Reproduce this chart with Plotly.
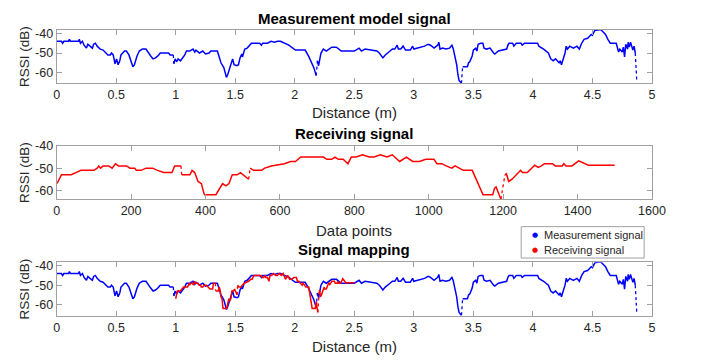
import plotly.graph_objects as go

# ---------------- data ----------------
meas_dist = [0.00, 0.04, 0.05, 0.06, 0.10, 0.107, 0.115, 0.185, 0.19, 0.20, 0.216, 0.23, 0.25, 0.262, 0.28,
             0.30, 0.31, 0.325, 0.34, 0.366, 0.39, 0.41, 0.43, 0.45, 0.46, 0.475, 0.49, 0.503, 0.516, 0.53,
             0.54, 0.57, 0.585, 0.607, 0.62, 0.64, 0.653, 0.675, 0.694, 0.72, 0.75, 0.77, 0.79, 0.81, 0.83,
             0.85, 0.87, 0.90, 0.94, 0.953, 0.98,
             0.984, 0.995, 1.008, 1.02, 1.04, 1.057, 1.076, 1.09, 1.117, 1.145, 1.16, 1.17, 1.20, 1.227,
             1.25, 1.28, 1.295, 1.35, 1.36, 1.38, 1.404, 1.426, 1.437, 1.45, 1.464, 1.478, 1.49, 1.514,
             1.527, 1.54, 1.555, 1.56, 1.58, 1.60, 1.636, 1.705, 1.72, 1.73, 1.77, 1.80, 1.83, 1.855, 1.88,
             1.91, 1.94, 1.95, 2.005, 2.087, 2.115, 2.13, 2.14, 2.16, 2.18,
             2.19, 2.20, 2.22, 2.24, 2.265, 2.29, 2.31, 2.35, 2.39, 2.50, 2.54, 2.56, 2.59, 2.69, 2.71,
             2.74, 2.76, 2.80, 2.82, 2.84, 2.86, 2.87, 2.89, 2.91, 2.93, 2.97, 2.99, 3.00, 3.03, 3.05,
             3.09, 3.12, 3.14, 3.17, 3.20, 3.21, 3.22, 3.24, 3.27, 3.30, 3.32, 3.33, 3.34, 3.36, 3.37,
             3.38, 3.40,
             3.41, 3.45, 3.46, 3.47, 3.49, 3.50, 3.52, 3.53, 3.54, 3.56, 3.58, 3.59, 3.61, 3.64, 3.67,
             3.68, 3.71, 3.75, 3.78, 3.79, 3.80, 3.83, 3.84, 3.86, 3.90, 3.91, 3.93, 3.97, 4.04, 4.05,
             4.09, 4.13, 4.15, 4.17, 4.19, 4.22, 4.23, 4.24, 4.27, 4.28, 4.29, 4.31, 4.34, 4.37, 4.39,
             4.41, 4.43, 4.46, 4.49, 4.50, 4.52, 4.57, 4.61, 4.63, 4.65, 4.70, 4.72, 4.73, 4.75, 4.76,
             4.77, 4.78, 4.795, 4.80, 4.81, 4.82, 4.84, 4.85, 4.86,
             4.868, 4.872]
meas_rssi = [-44, -44, -45, -44, -44, -43, -44, -44, -43, -45, -44, -46, -47.5, -45.5, -46.5,
             -47.5, -45.5, -45, -46.5, -48, -48.5, -50, -51, -51, -50, -51, -55.5, -53, -56, -54,
             -51, -49, -49, -51, -53, -57, -56, -51.5, -49, -48, -48, -50, -51.5, -53, -52.5,
             -51.5, -50, -50, -50, -51, -51,
             -55.5, -53, -54.5, -53, -54, -52.5, -51, -49, -49, -48, -49.5, -48.5, -50, -49,
             -50.5, -50, -49, -49, -51, -55, -57.5, -62.5, -61, -58.5, -55.5, -53, -56, -56.5,
             -56, -52.5, -50.5, -52, -48, -47.5, -45, -45, -46, -45, -45, -44, -44.5, -44, -44,
             -45, -46, -46, -48.5, -48.5, -51.5, -53.5, -55, -57.5, -61.5,
             -54, -56.5, -50, -48, -49, -48, -47, -47, -49, -49, -47.5, -49, -48, -49, -50,
             -52.5, -51, -49, -48, -48, -46, -48, -48, -46.5, -48.5, -48.5, -46.5, -48, -47.5, -47.5,
             -46.5, -45.5, -46, -47.5, -46, -44.5, -48, -47.5, -48, -47.5, -46, -47.5, -50, -56, -61,
             -64, -65.5,
             -57, -57, -55, -54.5, -51.5, -48.5, -47.5, -49, -45.5, -45, -45, -47.5, -48, -47.5, -50,
             -50.5, -49, -48.5, -48, -46, -45, -45, -46.5, -45, -45, -46, -45, -45, -45, -46.5,
             -48, -50, -53, -54, -53, -55, -54, -56, -50, -46.5, -48, -46.5, -47.5, -46.5, -48,
             -45, -43, -42.5, -40.5, -41, -38.5, -38, -40.5, -43, -45, -45, -49.5, -48, -49.5, -47,
             -52, -45.5, -48, -44.5, -47, -44.5, -48.5, -46.5, -50,
             -59, -64]
# points after which the signal jumps (drawn as sparse dots)
meas_jump_after = [0.98, 2.18, 3.40, 4.86, 4.868]

recv_index = [0, 4, 13, 39, 52, 65, 100, 109, 113, 118, 125, 140, 149, 158, 166, 188, 197, 210, 214,
              227, 240, 258, 271, 288, 310, 317, 334,
              336, 358, 364, 371, 380, 389, 396, 398, 428, 446, 455, 463, 472, 485, 494, 516,
              520, 529, 551, 559, 577, 603, 612, 629, 642, 656, 717, 726, 739, 748, 757, 770, 783,
              792, 805, 822, 840, 853, 870, 888, 902, 922, 940, 957, 975, 992, 1014, 1022, 1035,
              1047, 1062, 1071, 1083, 1093, 1117, 1146, 1172, 1177, 1181, 1188, 1194,
              1205, 1209, 1215, 1224, 1247, 1252, 1265, 1285, 1294, 1303, 1311, 1333, 1340, 1359,
              1363, 1369, 1385, 1403, 1429, 1500]
recv_rssi = [-57, -56, -53, -53, -52, -51, -51, -50, -49, -50, -49, -49, -50, -48, -49, -49, -50, -50, -51,
             -51, -50, -50, -51, -52, -52, -49, -49,
             -53, -53, -51, -52, -56, -57, -61.5, -62, -62, -57, -58, -57, -53, -53, -52, -55,
             -50, -51, -51, -50, -49, -48.5, -48, -47, -47, -45, -45, -46, -46, -45, -46, -46, -48,
             -45, -45, -44, -45, -45, -44, -45, -44, -47, -45, -47, -47, -46, -46, -48, -48,
             -49, -50, -49, -50, -51, -51, -62, -62, -59, -58.5, -62, -64,
             -53, -52.5, -56, -55, -51, -52, -52, -48.7, -49.7, -49, -48, -48, -49, -49,
             -48, -49, -49, -46.7, -48.7, -48.7]
recv_jump_after = [334, 516, 1194]

# mapping of data points onto distance (m)
map_start_m = 1.0
map_points_per_m = 1000.0
recv_dist = [map_start_m + i / map_points_per_m for i in recv_index]

dist_ticks = [0, 0.5, 1, 1.5, 2, 2.5, 3, 3.5, 4, 4.5, 5]
index_ticks = [0, 200, 400, 600, 800, 1000, 1200, 1400, 1600]
rssi_ticks = [-60, -50, -40]
rssi_tick_text = ["-60", "-50", "-40"]
legend_names = ["Measurement signal", "Receiving signal"]

# ---------------- helpers ----------------
def split_jumps(xs, ys, jump_after):
    jset = set(jump_after)
    sx, sy, dx, dy = [], [], [], []
    for i, (x, y) in enumerate(zip(xs, ys)):
        sx.append(x); sy.append(y)
        if x in jset and i + 1 < len(xs):
            sx.append(None); sy.append(None)
            dx += [x, xs[i + 1], None]
            dy += [y, ys[i + 1], None]
    return sx, sy, dx, dy

FONT = "Liberation Sans, Arial, sans-serif"
TXT = "#262626"
AXC = "#a0a0a0"
BLUE = "#0000ff"
RED = "#ff0000"
W, H = 704, 360

fig = go.Figure()

def add_series(xs, ys, jumps, color, xa, ya, name):
    sx, sy, dx, dy = split_jumps(xs, ys, jumps)
    fig.add_trace(go.Scatter(x=sx, y=sy, mode="lines", line=dict(color=color, width=1.5),
                             xaxis=xa, yaxis=ya, showlegend=False, name=name, hoverinfo="skip"))
    fig.add_trace(go.Scatter(x=dx, y=dy, mode="lines", line=dict(color=color, width=1.3, dash="dot"),
                             xaxis=xa, yaxis=ya, showlegend=False, name=name, hoverinfo="skip"))

add_series(meas_dist, meas_rssi, meas_jump_after, BLUE, "x", "y", legend_names[0])
add_series(recv_index, recv_rssi, recv_jump_after, RED, "x2", "y2", legend_names[1])
add_series(meas_dist, meas_rssi, meas_jump_after, BLUE, "x3", "y3", legend_names[0])
recv_jump_dist = [map_start_m + i / map_points_per_m for i in recv_jump_after]
add_series(recv_dist, recv_rssi, recv_jump_dist, RED, "x3", "y3", legend_names[1])

def py2paper(py):
    return 1 - py / H

xdom = [55 / W, 665 / W]
panels = [(23, 78), (141.7, 196), (260.3, 315)]

common_x = dict(showline=True, linecolor=AXC, linewidth=1, mirror="ticks", ticks="inside",
                ticklen=5, tickcolor=AXC, showgrid=False, zeroline=False,
                tickfont=dict(family=FONT, size=12.5, color=TXT), domain=xdom)
common_y = dict(showline=True, linecolor=AXC, linewidth=1, mirror="ticks", ticks="inside",
                ticklen=5, tickcolor=AXC, showgrid=False, zeroline=False,
                tickvals=rssi_ticks, ticktext=rssi_tick_text,
                tickfont=dict(family=FONT, size=12.5, color=TXT))

layout = dict(
    width=W, height=H, margin=dict(l=0, r=0, t=0, b=0),
    paper_bgcolor="white", plot_bgcolor="white", showlegend=False,
    xaxis=dict(common_x, range=[0, 5], tickvals=dist_ticks, anchor="y"),
    yaxis=dict(common_y, range=[-65.6, -38], anchor="x",
               domain=[py2paper(panels[0][1]), py2paper(panels[0][0])]),
    xaxis2=dict(common_x, range=[0, 1600], tickvals=index_ticks, anchor="y2"),
    yaxis2=dict(common_y, range=[-64, -40], anchor="x2",
                domain=[py2paper(panels[1][1]), py2paper(panels[1][0])]),
    xaxis3=dict(common_x, range=[0, 5], tickvals=dist_ticks, anchor="y3"),
    yaxis3=dict(common_y, range=[-65.8, -38.2], anchor="x3",
                domain=[py2paper(panels[2][1]), py2paper(panels[2][0])]),
)
fig.update_layout(**layout)

titles = [("Measurement model signal", 12), ("Receiving signal", 129), ("Signal mapping", 247)]
xlabels = [("Distance (m)", 108), ("Data points", 228), ("Distance (m)", 346)]
ann = []
for t, py in titles:
    ann.append(dict(text="<b>%s</b>" % t, x=0.5 * (xdom[0] + xdom[1]), y=py2paper(py), xref="paper",
                    yref="paper", xanchor="center", yanchor="middle", showarrow=False,
                    font=dict(family=FONT, size=15, color="#000000")))
for t, py in xlabels:
    ann.append(dict(text=t, x=0.5 * (xdom[0] + xdom[1]), y=py2paper(py), xref="paper",
                    yref="paper", xanchor="center", yanchor="middle", showarrow=False,
                    font=dict(family=FONT, size=15, color=TXT)))
for top, bot in panels:
    ann.append(dict(text="RSSI (dB)", x=22 / W, y=py2paper((top + bot) / 2), xref="paper",
                    yref="paper", xanchor="center", yanchor="middle", showarrow=False, textangle=-90,
                    font=dict(family=FONT, size=13.5, color=TXT)))

# legend box (drawn like the MATLAB legend: dot marker + label)
leg_left, leg_top, leg_right, leg_bot = 531, 224, 657, 256
shapes = [dict(type="rect", xref="paper", yref="paper",
               x0=leg_left / W, x1=leg_right / W, y0=py2paper(leg_bot), y1=py2paper(leg_top),
               line=dict(color=AXC, width=1), fillcolor="white", layer="above")]
for k, (name, col) in enumerate(zip(legend_names, [BLUE, RED])):
    py = 233 + 15 * k
    ann.append(dict(text="\u25CF", x=545 / W, y=py2paper(py), xref="paper", yref="paper",
                    xanchor="center", yanchor="middle", showarrow=False,
                    font=dict(family="DejaVu Sans", size=7, color=col)))
    ann.append(dict(text=name, x=552 / W, y=py2paper(py), xref="paper", yref="paper",
                    xanchor="left", yanchor="middle", showarrow=False,
                    font=dict(family=FONT, size=11, color=TXT)))
fig.update_layout(annotations=ann, shapes=shapes)

fig.write_html("out.html")
